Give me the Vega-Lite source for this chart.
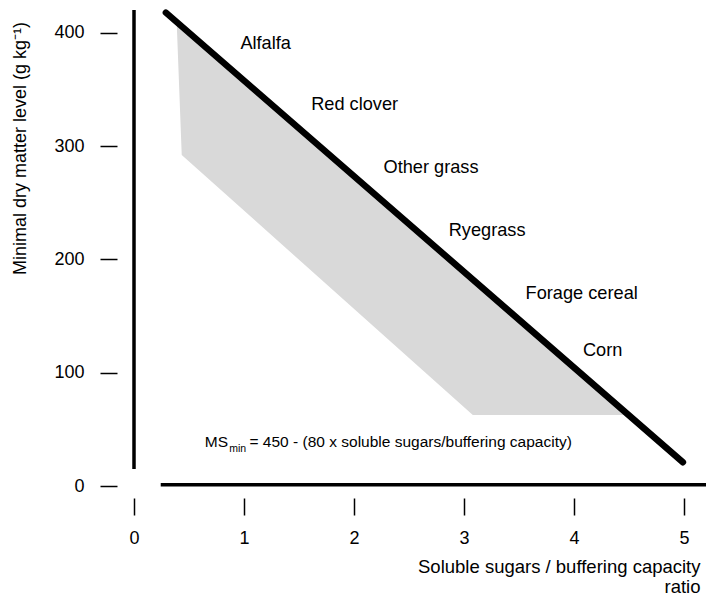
{
  "$schema": "https://vega.github.io/schema/vega-lite/v6.json",
  "width": 572,
  "height": 476,
  "autosize": {"type": "none"},
  "padding": {"left": 134, "top": 10, "right": 0, "bottom": 112},
  "background": "white",
  "config": {
    "view": {"stroke": null},
    "font": "Liberation Sans",
    "axis": {
      "grid": false,
      "domain": false,
      "tickColor": "black",
      "tickWidth": 1.5,
      "labelColor": "black",
      "titleColor": "black",
      "labelFont": "Liberation Sans",
      "titleFont": "Liberation Sans",
      "labelFontSize": 18,
      "titleFontSize": 18,
      "titleFontWeight": "normal",
      "labelFlush": false,
      "labelOverlap": false
    }
  },
  "datasets": {
    "band": [
      {"x": 0.388, "y": 409.7, "y2": 409.7},
      {"x": 0.434, "y": 292.3, "y2": 405.8},
      {"x": 3.08, "y": 62.7, "y2": 182.2},
      {"x": 4.495, "y": 62.7, "y2": 62.7}
    ],
    "fit": [
      {"x": 0.29, "y": 418},
      {"x": 4.99, "y": 21}
    ],
    "frame": [
      {"x": 0, "y": 15, "x2": 0, "y2": 420.3},
      {"x": 0.243, "y": 1, "x2": 5.2, "y2": 1}
    ],
    "crops": [
      {"x": 1.197, "y": 390.3, "label": "Alfalfa"},
      {"x": 2.006, "y": 336.4, "label": "Red clover"},
      {"x": 2.70, "y": 280.8, "label": "Other grass"},
      {"x": 3.21, "y": 225.2, "label": "Ryegrass"},
      {"x": 4.07, "y": 169.1, "label": "Forage cereal"},
      {"x": 4.26, "y": 119.6, "label": "Corn"}
    ],
    "eq": [
      {"part": "main", "x": 0.643, "y": 34.4, "label": "MS"},
      {"part": "sub", "x": 0.865, "y": 30, "label": "min"},
      {"part": "rest", "x": 1.05, "y": 34.4, "label": "= 450 - (80 x soluble sugars/buffering capacity)"}
    ]
  },
  "encoding": {
    "x": {
      "field": "x",
      "type": "quantitative",
      "scale": {"domain": [0, 5.2], "nice": false, "zero": false},
      "axis": {
        "values": [0, 1, 2, 3, 4, 5],
        "offset": 12,
        "tickSize": 17,
        "labelPadding": 14,
        "title": ["Soluble sugars / buffering capacity", "ratio"],
        "titleFontSize": 18.5,
        "titleAlign": "right",
        "titleAnchor": "end",
        "titleX": 566,
        "titleY": 59,
        "titleBaseline": "top",
        "titleLineHeight": 20
      }
    },
    "y": {
      "field": "y",
      "type": "quantitative",
      "scale": {"domain": [0, 420.3], "nice": false},
      "axis": {
        "values": [0, 100, 200, 300, 400],
        "offset": 17,
        "tickSize": 17,
        "labelPadding": 16,
        "title": "Minimal dry matter level (g kg⁻¹)",
        "titleAngle": 270,
        "titleAlign": "center",
        "titleBaseline": "alphabetic",
        "titleX": -92,
        "titleY": 138
      }
    }
  },
  "layer": [
    {
      "data": {"name": "band"},
      "mark": {"type": "area", "color": "#d9d9d9", "opacity": 1},
      "encoding": {"y2": {"field": "y2"}}
    },
    {
      "data": {"name": "fit"},
      "mark": {"type": "line", "color": "black", "strokeWidth": 6.5, "strokeCap": "round"},
      "encoding": {}
    },
    {
      "data": {"name": "frame"},
      "mark": {"type": "rule", "color": "black", "strokeWidth": 3.5},
      "encoding": {"x2": {"field": "x2"}, "y2": {"field": "y2"}}
    },
    {
      "data": {"name": "crops"},
      "mark": {"type": "text", "fontSize": 18.2, "align": "center", "baseline": "middle", "color": "black"},
      "encoding": {"text": {"field": "label"}}
    },
    {
      "data": {"name": "eq"},
      "transform": [{"filter": "datum.part === 'main' || datum.part === 'rest'"}],
      "mark": {"type": "text", "fontSize": 15.5, "align": "left", "baseline": "alphabetic", "color": "black"},
      "encoding": {"text": {"field": "label"}}
    },
    {
      "data": {"name": "eq"},
      "transform": [{"filter": "datum.part === 'sub'"}],
      "mark": {"type": "text", "fontSize": 10.5, "align": "left", "baseline": "alphabetic", "color": "black"},
      "encoding": {"text": {"field": "label"}}
    }
  ]
}
